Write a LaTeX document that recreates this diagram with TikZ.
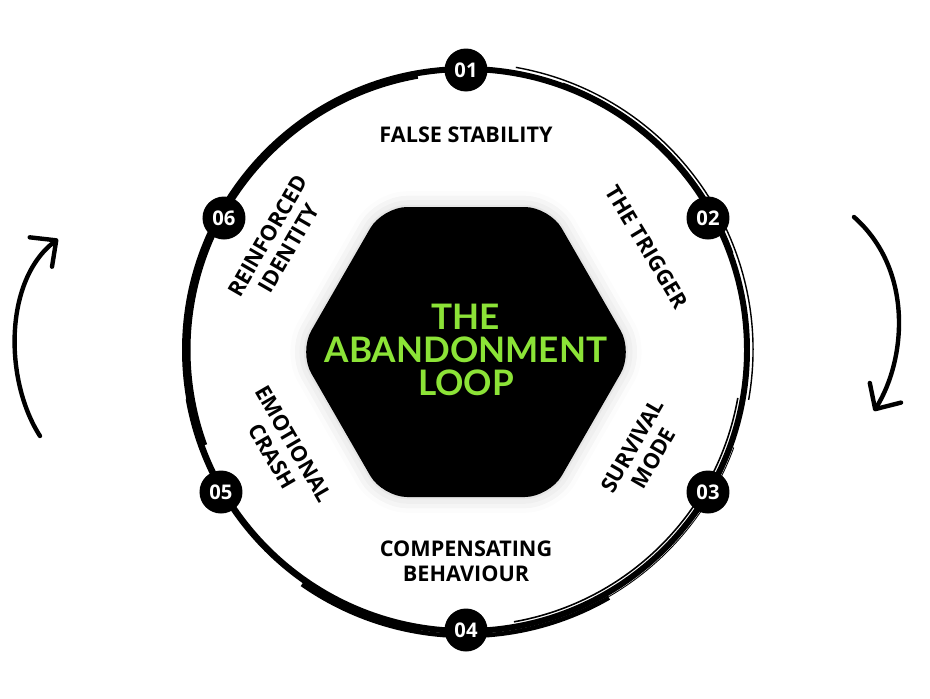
\documentclass[tikz,border=0pt]{standalone}
\usepackage{fontspec}
\setmainfont{Open Sans}
\newfontfamily\hexfont{Lato}
\usepackage{tikz}
\usetikzlibrary{positioning,arrows.meta,shadows.blur}
\definecolor{loopgreen}{RGB}{140,227,55}

\begin{document}
\begin{tikzpicture}[x=0.02cm,y=0.02cm,
badge/.style={circle,fill=black,text=white,minimum size=0.86cm,inner sep=0pt,
    font=\bfseries\fontsize{11.5}{11.5}\selectfont},
steplabel/.style={align=center,inner sep=0pt,
    font=\bfseries\fontsize{12.3}{14}\selectfont},
turn/.style={line width=2.5pt,line cap=round,
    -{Straight Barb[length=11pt,width=21pt,round]}}]
\useasboundingbox (-466,-348) rectangle (464,350);

% brush ring
\draw[line width=3.4pt] (0,0) circle[radius=281];
\draw[line width=4pt] (100:279) arc[start angle=100,end angle=200,radius=279];
\draw[line width=0.8pt] (-10:287) arc[start angle=-10,end angle=80,radius=287];
\draw[line width=0.6pt] (20:284) arc[start angle=20,end angle=70,radius=284];
\draw[line width=0.9pt] (-80:276) arc[start angle=-80,end angle=-10,radius=276];
\draw[line width=0.5pt] (-75:285) arc[start angle=-75,end angle=-20,radius=285];
\draw[line width=0.7pt] (190:284) arc[start angle=190,end angle=260,radius=284];
\draw[line width=2.5pt] (235:286) arc[start angle=235,end angle=300,radius=286];

% centre hexagon
\fill[black,rounded corners=14pt,
    blur shadow={shadow xshift=0pt,shadow yshift=0pt,shadow blur radius=9pt,shadow opacity=20}]
    (167,-2) -- (83.5,143) -- (-83.5,143) -- (-167,-2) -- (-83.5,-147) -- (83.5,-147) -- cycle;
\node (title) [text=loopgreen,align=center,
    font=\hexfont\bfseries\fontsize{20}{18.7}\selectfont] at (0,0)
    {THE\\ABANDONMENT\\LOOP};

% steps
\node (b1) [badge] at (0,280) {01};
\node (b2) [badge] at (242,132) {02};
\node (b3) [badge] at (242,-142) {03};
\node (b4) [badge] at (0,-280) {04};
\node (b5) [badge] at (-245,-142) {05};
\node (b6) [badge] at (-242,132) {06};

\node (s1) [steplabel] at (0,215) {FALSE STABILITY};
\node (s2) [steplabel,rotate=-59] at (181,103) {THE TRIGGER};
\node (s3) [steplabel,rotate=60] at (177,-102) {SURVIVAL\\MODE};
\node (s4) [steplabel] at (0,-211) {COMPENSATING\\BEHAVIOUR};
\node (s5) [steplabel,rotate=-60] at (-183,-100) {EMOTIONAL\\CRASH};
\node (s6) [steplabel,rotate=60] at (-188,108) {REINFORCED\\IDENTITY};

% turning arrows
\coordinate (lstart) at (-426,-86);
\coordinate (lend) at (-408,111);
\coordinate (rstart) at (388,133);
\coordinate (rend) at (408,-61);
\draw[turn] (lstart) .. controls (-462,-30) and (-462,70) .. (lend);
\draw[turn] (rstart) .. controls (448,80) and (440,-10) .. (rend);
\end{tikzpicture}
\end{document}
